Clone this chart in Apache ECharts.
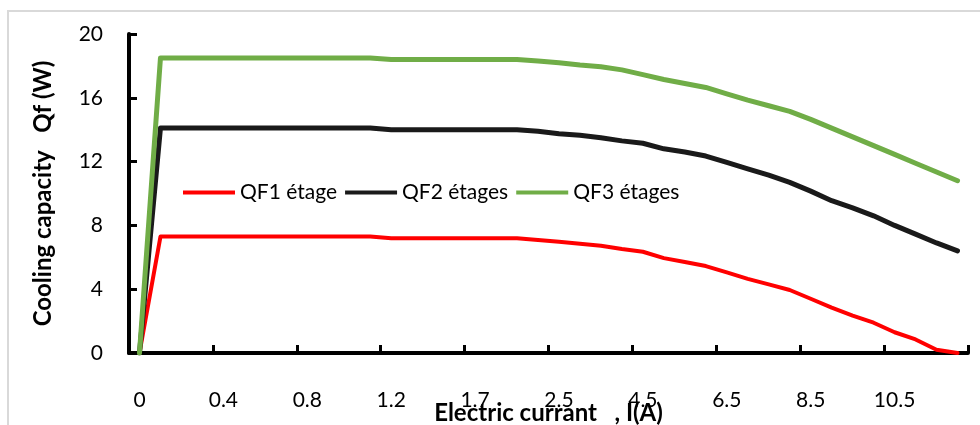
<!DOCTYPE html>
<html>
<head>
<meta charset="utf-8">
<script src="https://cdn.jsdelivr.net/npm/echarts@6/dist/echarts.min.js"></script>
<style>
  html, body { margin: 0; padding: 0; background: #ffffff; overflow: hidden; }
  #wrap { position: relative; width: 980px; height: 425px; }
  #frame {
    position: absolute; left: 7px; top: 10px; width: 1200px; height: 800px;
    border-top: 2px solid #d9d9d9; border-left: 2px solid #d9d9d9;
    pointer-events: none;
  }
  #chart { position: absolute; left: 0; top: 0; width: 980px; height: 425px; }
</style>
</head>
<body>
<div id="wrap">
  <div id="frame"></div>
  <div id="chart"></div>
</div>
<script>
// Electric current I (A), one category per measurement
const currents = ['0','0.1','0.2','0.3','0.4','0.5','0.6','0.7','0.8','0.9','1','1.1','1.2',
  '1.3','1.4','1.5','1.7','1.9','2.1','2.3','2.5','3','3.5','4','4.5','5','5.5','6','6.5',
  '7','7.5','8','8.5','9','9.5','10','10.5','11','11.5','12'];

// Cooling capacity Qf (W)
const qf1 = [0, 7.3, 7.3, 7.3, 7.3, 7.3, 7.3, 7.3, 7.3, 7.3, 7.3, 7.3,
  7.2, 7.2, 7.2, 7.2, 7.2, 7.2, 7.2, 7.08, 6.97, 6.85, 6.73, 6.52, 6.35, 5.95, 5.7, 5.45,
  5.05, 4.65, 4.3, 3.95, 3.4, 2.85, 2.35, 1.9, 1.3, 0.85, 0.2, 0];
const qf2 = [0, 14.1, 14.1, 14.1, 14.1, 14.1, 14.1, 14.1, 14.1, 14.1, 14.1, 14.1,
  14.0, 14.0, 14.0, 14.0, 14.0, 14.0, 14.0, 13.9, 13.75, 13.65, 13.5, 13.3, 13.15, 12.8, 12.6, 12.35,
  11.95, 11.55, 11.15, 10.7, 10.15, 9.55, 9.1, 8.6, 8.0, 7.45, 6.9, 6.4];
const qf3 = [0, 18.5, 18.5, 18.5, 18.5, 18.5, 18.5, 18.5, 18.5, 18.5, 18.5, 18.5,
  18.4, 18.4, 18.4, 18.4, 18.4, 18.4, 18.4, 18.3, 18.2, 18.05, 17.95, 17.75, 17.45, 17.15, 16.9, 16.65,
  16.25, 15.85, 15.5, 15.15, 14.65, 14.1, 13.55, 13.0, 12.45, 11.9, 11.35, 10.8];

const seriesNames = ['QF1 étage', 'QF2 étages', 'QF3 étages'];
const seriesColors = ['#ff0000', '#1a1a1a', '#70ad47'];
const seriesWidths = [4, 5, 5];

const FONT = 'Lato, Carlito, "Open Sans", sans-serif';
const AXIS_COLOR = '#000000';

const chart = echarts.init(document.getElementById('chart'), null, { renderer: 'canvas' });

chart.setOption({
  animation: false,
  grid: { left: 129, right: 12, top: 34, bottom: 72, outerBoundsMode: 'none' },
  legend: {
    left: 183,
    top: 182,
    padding: 0,
    itemWidth: 52,
    itemHeight: 24,
    itemGap: 8,
    textStyle: { fontFamily: FONT, fontSize: 21, color: '#000000' },
    data: seriesNames.map((n, i) => ({
      name: n,
      icon: 'path://M0,10 L52,10 L52,14 L0,14 Z',
      itemStyle: { color: seriesColors[i] }
    }))
  },
  xAxis: {
    type: 'category',
    data: currents,
    boundaryGap: true,
    name: 'Electric currant   , I(A)',
    nameLocation: 'middle',
    nameGap: 48,
    nameMoveOverlap: false,
    nameTextStyle: { fontFamily: FONT, fontSize: 24, fontWeight: 'bold', color: '#000000' },
    axisLine: { show: true, lineStyle: { color: AXIS_COLOR, width: 4 } },
    axisTick: { show: true, interval: 3, inside: true, length: 8, lineStyle: { color: AXIS_COLOR, width: 3 } },
    axisLabel: { interval: 3, margin: 37, fontFamily: FONT, fontSize: 21, color: '#000000' },
    splitLine: { show: false }
  },
  yAxis: {
    type: 'value',
    min: 0,
    max: 20,
    interval: 4,
    name: 'Cooling capacity   Qf (W)',
    nameLocation: 'middle',
    nameGap: 74,
    nameMoveOverlap: false,
    nameTextStyle: { fontFamily: FONT, fontSize: 24, fontWeight: 'bold', color: '#000000' },
    axisLine: { show: true, lineStyle: { color: AXIS_COLOR, width: 4 } },
    axisTick: { show: true, inside: true, length: 8, lineStyle: { color: AXIS_COLOR, width: 3 } },
    axisLabel: { margin: 26, fontFamily: FONT, fontSize: 21, color: '#000000' },
    splitLine: { show: false }
  },
  series: seriesNames.map((n, i) => ({
    name: n,
    type: 'line',
    data: [qf1, qf2, qf3][i],
    symbol: 'none',
    smooth: false,
    color: seriesColors[i],
    lineStyle: { color: seriesColors[i], width: seriesWidths[i], cap: 'round', join: 'round' },
    z: 2 + i
  }))
});
</script>
</body>
</html>
